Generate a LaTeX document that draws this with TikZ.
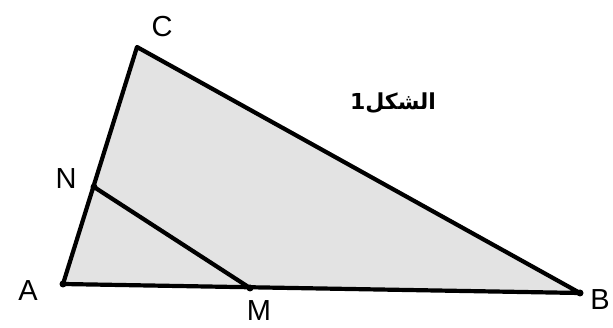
\documentclass[tikz,border=0pt]{standalone}
\usepackage{fontspec}
\setmainfont{Liberation Sans}
\newfontfamily\arabicfont[Script=Arabic]{DejaVu Sans}
\TeXXeTstate=1
\begin{document}
\begin{tikzpicture}[x=1pt,y=-1pt,
  edge/.style={line width=4.2pt,line join=round,line cap=round},
  lbl/.style={font=\fontsize{29}{31}\selectfont,inner sep=0pt},
  pt/.style={circle,fill=black,inner sep=0pt,minimum size=7pt}]
\useasboundingbox (0,0) rectangle (613,328);
\coordinate (A) at (63,284);
\coordinate (B) at (580,293);
\coordinate (C) at (137,47);
\coordinate (N) at (94,187);
\coordinate (M) at (250,288);
\fill[gray!22] (A) -- (B) -- (C) -- cycle;
\draw[edge] (A) -- (B) -- (C) -- cycle;
\draw[edge] (N) -- (M);
\node[pt] (n) at (N) {};
\node[pt] (m) at (M) {};
\node[pt] (a) at (A) {};
\node[pt] (b) at (B) {};
\node[lbl] (lA) at (28,291) {A};
\node[lbl] (lB) at (600,300) {B};
\node[lbl] (lC) at (162,27) {C};
\node[lbl] (lN) at (66,179) {N};
\node[lbl] (lM) at (259,311) {M};
\node[inner sep=0pt,font=\fontsize{22}{24}\selectfont\bfseries\arabicfont] (lab) at (393,103) {\beginR الشكل1\endR};
\end{tikzpicture}
\end{document}
